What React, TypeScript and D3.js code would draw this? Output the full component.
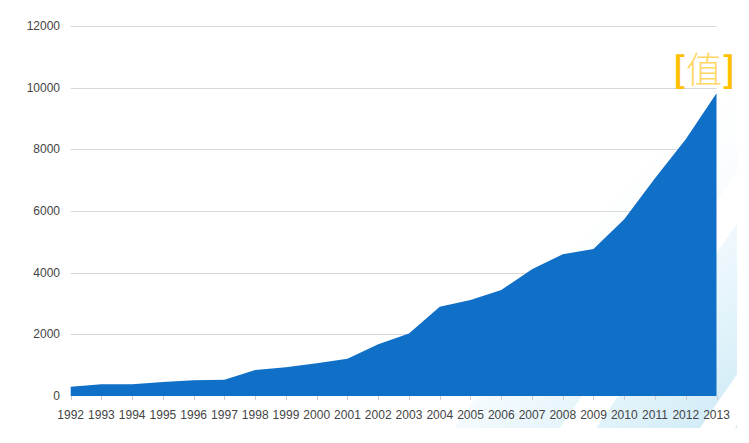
import React, { useEffect, useRef } from 'react';
import * as d3 from 'd3';

const years = [
  '1992', '1993', '1994', '1995', '1996', '1997', '1998', '1999', '2000', '2001', '2002',
  '2003', '2004', '2005', '2006', '2007', '2008', '2009', '2010', '2011', '2012', '2013',
];
const values = [
  300, 379, 380, 454, 509, 528, 843, 930, 1060, 1209, 1676,
  2024, 2897, 3114, 3439, 4110, 4597, 4769, 5732, 7060, 8327, 9820,
];
const yTicks = [0, 2000, 4000, 6000, 8000, 10000, 12000];

function AreaChart() {
  const svgRef = useRef(null);

  useEffect(() => {
    const svg = d3.select(svgRef.current);
    svg.selectAll('*').remove();

    const left = 70.7;
    const right = 716.5;
    const top = 26;
    const bottom = 396;

    const x = d3.scalePoint().domain(years).range([left, right]);
    const y = d3.scaleLinear().domain([0, 12000]).range([bottom, top]);

    // faint diagonal stripes in the background (bottom right)
    const defs = svg.append('defs');
    const grad = defs
      .append('linearGradient')
      .attr('id', 'stripeFade')
      .attr('gradientUnits', 'userSpaceOnUse')
      .attr('x1', 740)
      .attr('y1', 430)
      .attr('x2', 560)
      .attr('y2', 200);
    grad.append('stop').attr('offset', '0').attr('stop-color', '#cbe9f6').attr('stop-opacity', 1);
    grad.append('stop').attr('offset', '0.5').attr('stop-color', '#e4f4fb').attr('stop-opacity', 0.7);
    grad.append('stop').attr('offset', '1').attr('stop-color', '#ffffff').attr('stop-opacity', 0);
    defs
      .append('clipPath')
      .attr('id', 'bgClip')
      .append('rect')
      .attr('x', 0)
      .attr('y', 0)
      .attr('width', 737)
      .attr('height', 428);

    const slope = 1.45;
    const bands = [
      [455, 560],
      [596, 700],
      [735, 900],
    ];
    const bg = svg.append('g').attr('clip-path', 'url(#bgClip)');
    bands.forEach(([a, b]) => {
      const h = 428;
      const pts: [number, number][] = [
        [a, 428],
        [b, 428],
        [b + h / slope, 0],
        [a + h / slope, 0],
      ];
      bg.append('polygon')
        .attr('points', pts.map((p) => p.join(',')).join(' '))
        .attr('fill', 'url(#stripeFade)');
    });

    // gridlines
    svg
      .append('g')
      .selectAll('line')
      .data(yTicks.slice(1))
      .join('line')
      .attr('x1', left)
      .attr('x2', right)
      .attr('y1', (d) => Math.round(y(d)) + 0.5)
      .attr('y2', (d) => Math.round(y(d)) + 0.5)
      .attr('stroke', '#d9d9d9')
      .attr('stroke-width', 1);

    // area
    const area = d3
      .area<number>()
      .x((_, i) => x(years[i]) as number)
      .y0(bottom)
      .y1((d) => y(d));

    svg.append('path').attr('d', area(values)).attr('fill', '#106fc7');

    // x ticks
    svg
      .append('g')
      .selectAll('line')
      .data(years)
      .join('line')
      .attr('x1', (d) => Math.round(x(d) as number) + 0.5)
      .attr('x2', (d) => Math.round(x(d) as number) + 0.5)
      .attr('y1', bottom)
      .attr('y2', bottom + 4)
      .attr('stroke', '#cccccc');

    // x labels
    svg
      .append('g')
      .selectAll('text')
      .data(years)
      .join('text')
      .attr('x', (d) => x(d) as number)
      .attr('y', 419)
      .attr('text-anchor', 'middle')
      .attr('font-family', 'Liberation Sans, Arial, sans-serif')
      .attr('font-size', 12)
      .attr('fill', '#444')
      .text((d) => d);

    // y labels
    svg
      .append('g')
      .selectAll('text')
      .data(yTicks)
      .join('text')
      .attr('x', 60)
      .attr('y', (d) => y(d) + 4)
      .attr('text-anchor', 'end')
      .attr('font-family', 'Liberation Sans, Arial, sans-serif')
      .attr('font-size', 12)
      .attr('fill', '#444')
      .text((d) => d);

    // value tag top right
    const tag = svg
      .append('text')
      .attr('x', 704)
      .attr('y', 83)
      .attr('text-anchor', 'middle')
      .attr('font-family', 'Noto Sans CJK SC, sans-serif')
      .attr('font-size', 36);
    tag.append('tspan').attr('fill', '#ffc000').attr('font-weight', 'bold').text('[');
    tag.append('tspan').attr('fill', '#ffd766').attr('font-weight', 300).text('值');
    tag.append('tspan').attr('fill', '#ffc000').attr('font-weight', 'bold').text(']');
  }, []);

  return (
    <svg
      ref={svgRef}
      width={749}
      height={443}
      style={{ position: 'absolute', left: 0, top: 0, background: '#fff' }}
      xmlns="http://www.w3.org/2000/svg"
    />
  );
}

export default function App() {
  return <AreaChart />;
}
